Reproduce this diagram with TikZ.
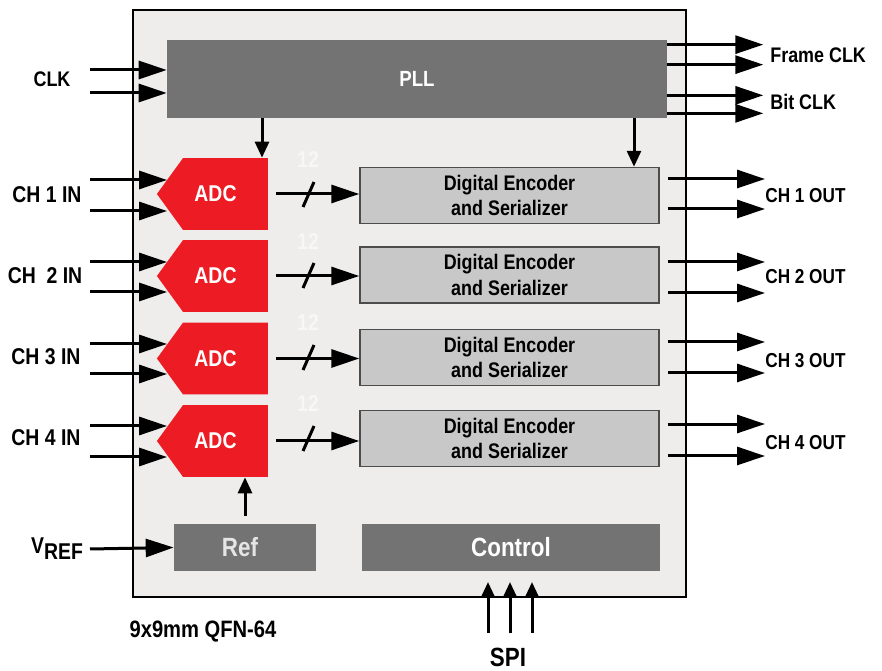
\documentclass[tikz,border=0pt]{standalone}
\usepackage{fontspec}
\setmainfont{Liberation Sans}[FakeStretch=0.85]
\usetikzlibrary{arrows.meta,shapes.symbols}

\definecolor{chipgray}{HTML}{EEEDEB}
\definecolor{blockgray}{HTML}{737373}
\definecolor{encgray}{HTML}{C8C8C8}
\definecolor{adcred}{HTML}{ED1C24}

\tikzset{
  sig/.style={line width=0.06cm,-{Triangle[length=0.56cm,width=0.36cm]}},
  sigsmall/.style={line width=0.06cm,-{Triangle[length=0.32cm,width=0.28cm]}},
  pin/.style={inner sep=0pt,font=\fontsize{11.5}{13}\selectfont\bfseries},
  inpin/.style={pin,font=\fontsize{13}{15}\selectfont\bfseries},
  darkblock/.style={fill=blockgray,text=white,inner sep=0pt,minimum height=0.94cm},
  encblock/.style={fill=encgray,draw=black!70,line width=0.03cm,inner sep=0pt,
    minimum width=5.98cm,minimum height=1.12cm,align=center,
    font=\fontsize{12}{14.5}\selectfont\bfseries},
  adcblock/.style={signal,signal to=west,signal pointer angle=108,fill=adcred,
    text=white,inner sep=0pt,minimum width=2.22cm,minimum height=1.44cm,
    font=\fontsize{13}{15}\selectfont\bfseries},
  bus/.style={text=white!97!black,font=\fontsize{13}{15}\selectfont\bfseries}
}

\begin{document}
\begin{tikzpicture}[x=0.02cm,y=-0.02cm]
\useasboundingbox (0,0) rectangle (882,671);
% package outline
\node[fill=chipgray,draw=black,line width=0.045cm,minimum width=11.06cm,
  minimum height=11.74cm,inner sep=0pt] (chip) at (409.5,303.5) {};
% blocks
\node[darkblock,minimum width=10cm,minimum height=1.56cm,
  font=\fontsize{12.5}{14}\selectfont\bfseries] (pll) at (417,79) {PLL};
\node[adcblock] (adc1) at (225.5,194) {\hspace*{-0.4cm}ADC};
\node[adcblock] (adc2) at (225.5,276) {\hspace*{-0.4cm}ADC};
\node[adcblock] (adc3) at (225.5,358.5) {\hspace*{-0.4cm}ADC};
\node[adcblock] (adc4) at (225.5,441) {\hspace*{-0.4cm}ADC};
\node[encblock] (enc1) at (509.5,195.5) {Digital Encoder\\and Serializer};
\node[encblock] (enc2) at (509.5,275) {Digital Encoder\\and Serializer};
\node[encblock] (enc3) at (509.5,357.5) {Digital Encoder\\and Serializer};
\node[encblock] (enc4) at (509.5,438.5) {Digital Encoder\\and Serializer};
\node[darkblock,minimum width=2.84cm,text=black!10,
  font=\fontsize{15}{17}\selectfont\bfseries] (ref) at (245,547.5) {\hspace*{-0.2cm}Ref};
\node[darkblock,minimum width=5.96cm,
  font=\fontsize{15}{17}\selectfont\bfseries] (ctrl) at (511,547.5) {Control};

% pin labels, left side
\node[pin,font=\fontsize{12}{14}\selectfont\bfseries] (clk) at (52,79) {CLK};
\node[inpin] (ch1in) at (47,195) {CH 1 IN};
\node[inpin] (ch2in) at (45,276) {CH\ \ 2 IN};
\node[inpin] (ch3in) at (46,357) {CH 3 IN};
\node[inpin] (ch4in) at (46,438) {CH 4 IN};
\node[inpin] (vref) at (57,549) {V\raisebox{-0.5ex}{REF}};
% pin labels, right side
\node[pin,anchor=west,font=\fontsize{12}{14}\selectfont\bfseries] (fclk) at (770,55) {Frame CLK};
\node[pin,anchor=west,font=\fontsize{12}{14}\selectfont\bfseries] (bclk) at (770,102) {Bit CLK};
\node[pin,anchor=west] (ch1out) at (765,196) {CH 1 OUT};
\node[pin,anchor=west] (ch2out) at (765,277) {CH 2 OUT};
\node[pin,anchor=west] (ch3out) at (765,361) {CH 3 OUT};
\node[pin,anchor=west] (ch4out) at (765,443) {CH 4 OUT};
\node[pin,font=\fontsize{15}{17}\selectfont\bfseries] (spi) at (508,657) {SPI};
\node[pin,font=\fontsize{13.5}{15}\selectfont\bfseries] (pkg) at (203,632) {9x9mm QFN-64};

% free ends
\coordinate (clka) at (90,70);
\coordinate (clkb) at (90,93);
\coordinate (in1a) at (90,180);
\coordinate (in1b) at (90,211);
\coordinate (in2a) at (90,262);
\coordinate (in2b) at (90,292);
\coordinate (in3a) at (90,344);
\coordinate (in3b) at (90,374);
\coordinate (in4a) at (90,426);
\coordinate (in4b) at (90,457);
\coordinate (vrefa) at (90,549);
\coordinate (outx) at (765,0);
\coordinate (spia) at (488,633);
\coordinate (spib) at (510,633);
\coordinate (spic) at (532,633);

% clock in and out
\draw[sig] (clka) -- (clka -| pll.west);
\draw[sig] (clkb) -- (clkb -| pll.west);
\draw[sig] ([yshift=-0.1cm]pll.north east) -- ++(96,0);
\draw[sig] ([yshift=-0.5cm]pll.north east) -- ++(96,0);
\draw[sig] ([yshift=0.46cm]pll.south east) -- ++(96,0);
\draw[sig] ([yshift=0.1cm]pll.south east) -- ++(96,0);
\draw[sigsmall] (pll.south -| 262,0) -- (adc1.north -| 262,0);
\draw[sigsmall] (pll.south -| 634,0) -- (enc1.north -| 634,0);

% analog inputs
\draw[sig] (in1a) -- (in1a -| adc1.166);
\draw[sig] (in1b) -- (in1b -| adc1.194);
\draw[sig] (in2a) -- (in2a -| adc2.166);
\draw[sig] (in2b) -- (in2b -| adc2.194);
\draw[sig] (in3a) -- (in3a -| adc3.166);
\draw[sig] (in3b) -- (in3b -| adc3.194);
\draw[sig] (in4a) -- (in4a -| adc4.166);
\draw[sig] (in4b) -- (in4b -| adc4.194);
\draw[sig] (vrefa) -- (ref.west);
\draw[sigsmall] ([yshift=0.16cm]ref.north) -- (adc4.south -| ref.north);

% 12-bit buses
\draw[sig] ([xshift=0.16cm]adc1.east) -- (enc1.west |- adc1.east);
\draw[sig] ([xshift=0.16cm]adc2.east) -- (enc2.west |- adc2.east);
\draw[sig] ([xshift=0.16cm]adc3.east) -- (enc3.west |- adc3.east);
\draw[sig] ([xshift=0.16cm]adc4.east) -- (enc4.west |- adc4.east);
\draw[line width=0.06cm] (303,207) -- (314,182);
\draw[line width=0.06cm] (303,288) -- (314,263);
\draw[line width=0.06cm] (303,370) -- (314,345);
\draw[line width=0.06cm] (303,451) -- (314,426);
\node[bus] (w1) at (308,160) {12};
\node[bus] (w2) at (308,242) {12};
\node[bus] (w3) at (308,323) {12};
\node[bus] (w4) at (308,404) {12};

% serial outputs
\draw[sig] ([shift={(0.16cm,0.33cm)}]enc1.east) -- ([yshift=0.33cm]enc1.east -| outx);
\draw[sig] ([shift={(0.16cm,-0.27cm)}]enc1.east) -- ([yshift=-0.27cm]enc1.east -| outx);
\draw[sig] ([shift={(0.16cm,0.26cm)}]enc2.east) -- ([yshift=0.26cm]enc2.east -| outx);
\draw[sig] ([shift={(0.16cm,-0.36cm)}]enc2.east) -- ([yshift=-0.36cm]enc2.east -| outx);
\draw[sig] ([shift={(0.16cm,0.31cm)}]enc3.east) -- ([yshift=0.31cm]enc3.east -| outx);
\draw[sig] ([shift={(0.16cm,-0.31cm)}]enc3.east) -- ([yshift=-0.31cm]enc3.east -| outx);
\draw[sig] ([shift={(0.16cm,0.29cm)}]enc4.east) -- ([yshift=0.29cm]enc4.east -| outx);
\draw[sig] ([shift={(0.16cm,-0.35cm)}]enc4.east) -- ([yshift=-0.35cm]enc4.east -| outx);

% SPI
\draw[sigsmall] (spia) -- (spia |- 0,582);
\draw[sigsmall] (spib) -- (spib |- 0,582);
\draw[sigsmall] (spic) -- (spic |- 0,582);
\end{tikzpicture}
\end{document}
